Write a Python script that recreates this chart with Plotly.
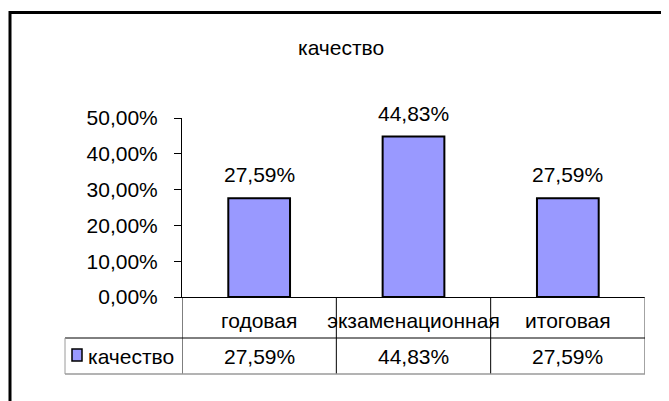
import plotly.graph_objects as go

categories = ["годовая", "экзаменационная", "итоговая"]
series_name = "качество"
values = [0.2759, 0.4483, 0.2759]
title_text = "качество"

OFF = 8  # page body margin of the html page
W, H = 669 - OFF, 401 - OFF
# plot area in page pixels
L, R, T, B = 182, 645, 118, 297


def px(x):
    return (x - L) / (R - L)


def py(y):
    return (B - y) / (B - T)


FONT = "Liberation Sans, Arial, sans-serif"
FS = 21
BAR = "#9999FF"

fig = go.Figure()
fig.add_trace(go.Bar(
    x=categories, y=values, name=series_name,
    width=0.4,
    marker=dict(color=BAR, line=dict(color="black", width=2)),
    showlegend=False,
    hoverinfo="skip",
))


def fmt(v):
    return f"{v*100:.2f}%".replace(".", ",")


# data labels above bars
for c, v in zip(categories, values):
    fig.add_annotation(x=c, y=v, xref="x", yref="y", text=fmt(v),
                       showarrow=False, yanchor="bottom", yshift=10,
                       font=dict(family=FONT, size=FS, color="black"))

# data table: value row
for c, v in zip(categories, values):
    fig.add_annotation(x=c, y=py(356), xref="x", yref="paper", text=fmt(v),
                       showarrow=False, yanchor="middle",
                       font=dict(family=FONT, size=FS, color="black"))

# legend key text in table
fig.add_annotation(x=px(86), y=py(356), xref="paper", yref="paper",
                   text=series_name, showarrow=False, xanchor="left", yanchor="middle",
                   font=dict(family=FONT, size=FS, color="black"))

shapes = []
# outer chart frame
shapes.append(dict(type="rect", xref="paper", yref="paper",
                   x0=px(10), x1=px(720), y0=py(12.5), y1=py(440),
                   line=dict(color="black", width=3), fillcolor="rgba(0,0,0,0)", layer="below"))
# legend key square
shapes.append(dict(type="rect", xref="paper", yref="paper",
                   x0=px(72), x1=px(82), y0=py(349), y1=py(361),
                   line=dict(color="black", width=1.5), fillcolor=BAR))
# table grid: vertical lines at category boundaries
for xb in [-0.5, 0.5, 1.5]:
    shapes.append(dict(type="line", xref="x", yref="paper",
                       x0=xb, x1=xb, y0=py(297), y1=py(374),
                       line=dict(color="black", width=1)))
shapes.append(dict(type="line", xref="x", yref="paper",
                   x0=2.5, x1=2.5, y0=py(297), y1=py(374),
                   line=dict(color="#666666", width=1.2)))
# row divider
shapes.append(dict(type="line", xref="paper", yref="paper",
                   x0=px(65), x1=px(R), y0=py(338), y1=py(338),
                   line=dict(color="black", width=1)))
# bottom border
shapes.append(dict(type="line", xref="paper", yref="paper",
                   x0=px(65), x1=px(R), y0=py(374), y1=py(374),
                   line=dict(color="#9a9a9a", width=1.5)))
# legend cell left border
shapes.append(dict(type="line", xref="paper", yref="paper",
                   x0=px(65), x1=px(65), y0=py(338), y1=py(374),
                   line=dict(color="#9a9a9a", width=1)))

fig.update_layout(
    width=W, height=H,
    margin=dict(l=L - OFF, r=W - (R - OFF), t=T - OFF, b=H - (B - OFF), pad=0),
    paper_bgcolor="white", plot_bgcolor="white",
    separators=", ",
    font=dict(family=FONT, size=FS, color="black"),
    shapes=shapes,
    xaxis=dict(
        type="category", range=[-0.5, 2.5],
        showline=True, linecolor="black", linewidth=1,
        ticks="", showgrid=False, zeroline=False,
        tickfont=dict(family=FONT, size=FS, color="black"),
        ticklabelstandoff=5,
    ),
    yaxis=dict(
        range=[0, 0.5], tickvals=[0, 0.1, 0.2, 0.3, 0.4, 0.5],
        tickformat=".2%",
        showline=True, linecolor="black", linewidth=1,
        ticks="outside", ticklen=7, tickcolor="black", tickwidth=1,
        showgrid=False, zeroline=False,
        tickfont=dict(family=FONT, size=FS, color="black"),
        ticklabelstandoff=12,
    ),
)

fig.add_annotation(x=px(341), y=py(47), xref="paper", yref="paper",
                   text=title_text, showarrow=False, yanchor="middle",
                   font=dict(family=FONT, size=FS, color="black"))

fig.write_html("out.html")
